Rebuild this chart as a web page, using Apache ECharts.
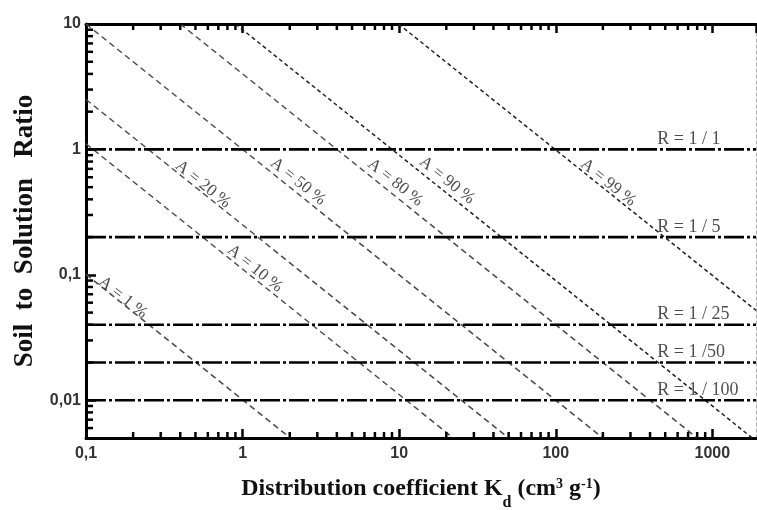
<!DOCTYPE html>
<html>
<head>
<meta charset="utf-8">
<script src="https://cdn.jsdelivr.net/npm/echarts@6/dist/echarts.min.js"></script>
<style>html,body{margin:0;padding:0;background:#fff;}#chart{width:757px;height:510px;}</style>
</head>
<body>
<div id="chart"></div>
<script>
// ---- data ----
const kdAxisRange = [0.1, 1900];
const ratioAxisRange = [0.005, 10];
const xTickLabels = {0.1: '0,1', 1: '1', 10: '10', 100: '100', 1000: '1000'};
const yTickLabels = {0.01: '0,01', 0.1: '0,1', 1: '1', 10: '10'};

const sorptionLabels = ['A = 1 %', 'A = 10 %', 'A = 20 %', 'A = 50 %', 'A = 80 %', 'A = 90 %', 'A = 99 %'];
const sorptionStart = [[0.1, 0.101], [0.1, 1.11], [0.1, 2.5], [0.1, 10], [0.4, 10], [0.9, 10], [9.9, 10]];
const sorptionEnd = [[2.02, 0.005], [22.2, 0.005], [50, 0.005], [200, 0.005], [800, 0.005], [1800, 0.005], [1900, 0.0521]];
const sorptionLabelAt = [[0.172, 0.0659], [1.20, 0.112], [0.559, 0.526], [2.26, 0.555], [9.44, 0.545], [20.2, 0.566], [216, 0.545]];

const ratioValues = [1, 0.2, 0.04, 0.02, 0.01];
const ratioLabels = ['R = 1 / 1', 'R = 1 / 5', 'R = 1 / 25', 'R = 1 /50', 'R = 1 / 100'];
const ratioLabelKd = 445;

// ---- minor tick positions (log-axis mantissas 2..9) ----
const mantissas = [2, 3, 4, 5, 6, 7, 8, 9];
const xMinor = [];
const yMinor = [];
[-1, 0, 1, 2, 3].forEach(function (e) {
  mantissas.forEach(function (m) {
    const v = m * Math.pow(10, e);
    if (v < kdAxisRange[1]) xMinor.push(v);
  });
});
[-3, -2, -1, 0].forEach(function (e) {
  mantissas.forEach(function (m) {
    const v = m * Math.pow(10, e);
    if (v > ratioAxisRange[0] && v < ratioAxisRange[1]) yMinor.push(v);
  });
});

const serif = 'Liberation Serif';
const sans = 'Liberation Sans';

const series = [];
sorptionLabels.forEach((name, i) => {
  const fine = i >= 5;
  series.push({
    type: 'line', name: name, symbol: 'none', z: 2,
    data: [sorptionStart[i], sorptionEnd[i]],
    lineStyle: {color: fine ? '#222' : '#4a4a4a', width: 1.5, type: fine ? [4, 3] : [6, 4]}
  });
});
ratioValues.forEach((r, i) => {
  series.push({
    type: 'line', name: ratioLabels[i], symbol: 'none', z: 3,
    data: [[kdAxisRange[0], r], [kdAxisRange[1], r]],
    lineStyle: {color: '#000', width: 2.6, type: [20, 3, 3, 3]}
  });
});
series.push({
  type: 'scatter', symbolSize: 0, z: 7, silent: true,
  data: sorptionLabels.map((t, i) => ({value: sorptionLabelAt[i], name: t})),
  label: {show: true, position: 'inside', formatter: p => p.name, rotate: -38.7,
          fontFamily: serif, fontSize: 17, color: '#222'}
});
series.push({
  type: 'scatter', symbolSize: 0, z: 7, silent: true,
  data: ratioLabels.map((t, i) => ({value: [ratioLabelKd, ratioValues[i]], name: t})),
  label: {show: true, position: 'top', align: 'left', distance: 1, formatter: p => p.name,
          fontFamily: serif, fontSize: 18, color: '#222'}
});

const chart = echarts.init(document.getElementById('chart'), null, {renderer: 'canvas'});
chart.setOption({
  animation: false,
  backgroundColor: '#fff',
  grid: {left: 86, right: 1, top: 24, bottom: 72, outerBoundsMode: 'none', containLabel: false},
  xAxis: [{
    type: 'log', logBase: 10, min: kdAxisRange[0], max: kdAxisRange[1],
    position: 'bottom',
    name: 'Distribution coefficient K{sub|d} (cm{sup|3} g{sup|-1})',
    nameLocation: 'middle', nameGap: 21,
    nameTextStyle: {fontFamily: serif, fontSize: 24, fontWeight: 'bold', color: '#111', lineHeight: 24,
      rich: {
        sub: {fontFamily: serif, fontSize: 16, fontWeight: 'bold', color: '#111', lineHeight: 16, padding: [28, 0, 0, 0]},
        sup: {fontFamily: serif, fontSize: 14, fontWeight: 'bold', color: '#111', lineHeight: 14, padding: [0, 0, 9, 0]}
      }},
    axisLine: {lineStyle: {color: '#000', width: 3}},
    axisTick: {show: true, inside: true, length: 9, lineStyle: {color: '#000', width: 2.5}},
    axisLabel: {margin: 8, fontFamily: sans, fontSize: 16, fontWeight: 'bold', color: '#333',
      showMaxLabel: false, formatter: v => xTickLabels[v] !== undefined ? xTickLabels[v] : ''},
    splitLine: {show: false}
  }, {
    type: 'log', logBase: 10, min: kdAxisRange[0], max: kdAxisRange[1],
    position: 'top',
    axisLine: {lineStyle: {color: '#000', width: 3}},
    axisTick: {show: true, inside: true, length: 9, lineStyle: {color: '#000', width: 2.5}},
    axisLabel: {show: false},
    splitLine: {show: false}
  }],
  yAxis: [{
    type: 'log', logBase: 10, min: ratioAxisRange[0], max: ratioAxisRange[1],
    position: 'left',
    name: 'Soil  to  Solution   Ratio',
    nameLocation: 'middle', nameGap: 43, nameRotate: 90,
    nameTextStyle: {fontFamily: serif, fontSize: 27, fontWeight: 'bold', color: '#111'},
    axisLine: {lineStyle: {color: '#000', width: 3}},
    axisTick: {show: true, inside: true, length: 10, lineStyle: {color: '#000', width: 2.5}},
    axisLabel: {margin: 5, fontFamily: sans, fontSize: 16, fontWeight: 'bold', color: '#333',
      showMinLabel: false, formatter: v => yTickLabels[v] !== undefined ? yTickLabels[v] : ''},
    splitLine: {show: false}
  }, {
    type: 'log', logBase: 10, min: ratioAxisRange[0], max: ratioAxisRange[1],
    position: 'right',
    axisLine: {lineStyle: {color: '#aaa', width: 1, type: [3, 3]}},
    axisTick: {show: false},
    axisLabel: {show: false},
    splitLine: {show: false}
  }],
  series: series
});

// minor ticks placed through the chart's own log scales
const finder = {xAxisIndex: 0, yAxisIndex: 0};
const tickEls = [];
function tick(p, dx, dy) {
  tickEls.push({type: 'line', silent: true, z: 100,
    shape: {x1: p[0], y1: p[1], x2: p[0] + dx, y2: p[1] + dy},
    style: {stroke: '#000', lineWidth: 2.5}});
}
xMinor.forEach(v => {
  tick(chart.convertToPixel(finder, [v, ratioAxisRange[0]]), 0, -6);
  tick(chart.convertToPixel(finder, [v, ratioAxisRange[1]]), 0, 6);
});
yMinor.forEach(v => {
  tick(chart.convertToPixel(finder, [kdAxisRange[0], v]), 7, 0);
});
chart.setOption({graphic: {elements: tickEls}});
</script>
</body>
</html>
